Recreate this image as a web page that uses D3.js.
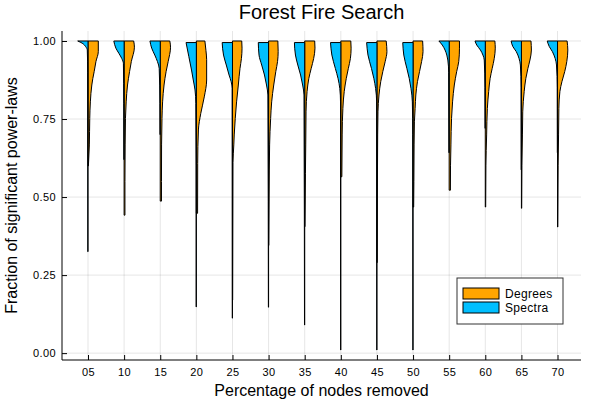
<!DOCTYPE html>
<head>
  <meta charset="utf-8" />
  <script src="https://d3js.org/d3.v7.min.js"></script>
  <style>
    body { margin: 0; background: #fff; }
    text { font-family: "Liberation Sans", Arial, sans-serif; fill: #000; }
  </style>
</head>
<body>
  <script>
    var width = 600,
      height = 400;

    // categories on the x axis
    var categories = ["05", "10", "15", "20", "25", "30", "35", "40", "45", "50", "55", "60", "65", "70"];
    var yTicks = [0, 0.25, 0.5, 0.75, 1.0];
    var seriesNames = ["Degrees", "Spectra"];
    var seriesColors = ["#FFA500", "#00BFFF"];

    // density outlines: [value, relative half-width]
    var degreesShape = [
      [[1.0, 1.0], [0.966, 1.0], [0.934, 0.77], [0.902, 0.6], [0.88, 0.47], [0.859, 0.37], [0.805, 0.23], [0.752, 0.17], [0.667, 0.13], [0.6, 0.04]],
      [[1.0, 0.93], [0.98, 1.0], [0.934, 0.7], [0.902, 0.53], [0.859, 0.33], [0.805, 0.2], [0.752, 0.13], [0.667, 0.1], [0.55, 0.08], [0.442, 0.08]],
      [[1.0, 0.93], [0.98, 1.0], [0.934, 0.77], [0.902, 0.57], [0.859, 0.37], [0.805, 0.23], [0.752, 0.17], [0.667, 0.13], [0.55, 0.12], [0.487, 0.12]],
      [[1.0, 0.83], [0.97, 0.93], [0.94, 1.0], [0.875, 1.0], [0.821, 0.77], [0.768, 0.43], [0.715, 0.2], [0.608, 0.13], [0.448, 0.12]],
      [[1.0, 0.9], [0.977, 0.93], [0.944, 0.87], [0.912, 0.73], [0.859, 0.57], [0.805, 0.4], [0.752, 0.27], [0.699, 0.17], [0.667, 0.13], [0.61, 0.05], [0.17, 0.02]],
      [[1.0, 0.9], [0.966, 0.93], [0.934, 0.87], [0.902, 0.7], [0.859, 0.5], [0.805, 0.3], [0.752, 0.2], [0.667, 0.1], [0.5, 0.05], [0.345, 0.02]],
      [[1.0, 0.97], [0.977, 1.0], [0.944, 0.87], [0.912, 0.63], [0.88, 0.4], [0.838, 0.23], [0.773, 0.13], [0.667, 0.1], [0.576, 0.07], [0.405, 0.02]],
      [[1.0, 0.97], [0.977, 1.0], [0.944, 0.93], [0.912, 0.73], [0.88, 0.53], [0.838, 0.33], [0.784, 0.2], [0.699, 0.13], [0.565, 0.1]],
      [[1.0, 0.9], [0.966, 0.97], [0.934, 0.8], [0.902, 0.57], [0.87, 0.37], [0.827, 0.2], [0.773, 0.1], [0.699, 0.07], [0.5, 0.04], [0.29, 0.02]],
      [[1.0, 0.93], [0.966, 0.97], [0.934, 0.83], [0.902, 0.63], [0.87, 0.43], [0.827, 0.27], [0.784, 0.2], [0.741, 0.13], [0.667, 0.1], [0.55, 0.08], [0.468, 0.06]],
      [[1.0, 1.0], [0.977, 1.0], [0.934, 0.93], [0.902, 0.73], [0.859, 0.5], [0.805, 0.33], [0.752, 0.23], [0.667, 0.17], [0.6, 0.13], [0.522, 0.12]],
      [[1.0, 0.93], [0.977, 0.97], [0.944, 0.87], [0.912, 0.67], [0.88, 0.47], [0.838, 0.33], [0.784, 0.2], [0.699, 0.13], [0.6, 0.06], [0.468, 0.04]],
      [[1.0, 0.93], [0.971, 0.97], [0.939, 0.83], [0.912, 0.63], [0.88, 0.43], [0.838, 0.27], [0.773, 0.13], [0.699, 0.1], [0.6, 0.05], [0.464, 0.03]],
      [[1.0, 0.93], [0.971, 1.0], [0.934, 0.9], [0.902, 0.7], [0.87, 0.43], [0.838, 0.23], [0.784, 0.13], [0.699, 0.1], [0.6, 0.06], [0.404, 0.03]]
    ];
    var spectraShape = [
      [[1.0, 1.0], [0.993, 0.57], [0.982, 0.23], [0.971, 0.07], [0.9, 0.03], [0.325, 0.02]],
      [[1.0, 1.0], [0.977, 0.8], [0.96, 0.5], [0.944, 0.23], [0.928, 0.07], [0.8, 0.03], [0.62, 0.02]],
      [[1.0, 1.0], [0.977, 0.83], [0.955, 0.53], [0.934, 0.27], [0.912, 0.1], [0.8, 0.03], [0.7, 0.02]],
      [[0.995, 1.0], [0.95, 0.73], [0.907, 0.47], [0.875, 0.3], [0.843, 0.13], [0.8, 0.05], [0.6, 0.02], [0.148, 0.02]],
      [[0.995, 1.0], [0.955, 0.87], [0.923, 0.6], [0.891, 0.33], [0.87, 0.13], [0.848, 0.03], [0.112, 0.02]],
      [[0.995, 1.0], [0.955, 0.93], [0.923, 0.67], [0.891, 0.4], [0.859, 0.2], [0.827, 0.07], [0.147, 0.02]],
      [[0.995, 1.0], [0.955, 0.9], [0.923, 0.67], [0.891, 0.4], [0.859, 0.2], [0.827, 0.07], [0.09, 0.02]],
      [[0.995, 1.0], [0.955, 0.87], [0.912, 0.53], [0.88, 0.27], [0.848, 0.1], [0.805, 0.03], [0.01, 0.02]],
      [[0.995, 1.0], [0.955, 0.87], [0.912, 0.53], [0.88, 0.3], [0.848, 0.13], [0.805, 0.03], [0.01, 0.02]],
      [[0.995, 1.0], [0.955, 0.9], [0.912, 0.6], [0.88, 0.37], [0.848, 0.2], [0.805, 0.07], [0.7, 0.03], [0.01, 0.02]],
      [[1.0, 1.0], [0.987, 0.67], [0.971, 0.4], [0.955, 0.23], [0.939, 0.13], [0.9, 0.05], [0.642, 0.02]],
      [[1.0, 1.0], [0.987, 0.83], [0.971, 0.47], [0.955, 0.23], [0.939, 0.1], [0.85, 0.03], [0.72, 0.02]],
      [[1.0, 1.0], [0.982, 0.83], [0.966, 0.5], [0.944, 0.23], [0.923, 0.1], [0.85, 0.03], [0.587, 0.02]],
      [[1.0, 1.0], [0.982, 0.8], [0.966, 0.5], [0.944, 0.23], [0.923, 0.1], [0.85, 0.03], [0.642, 0.02]]
    ];

    var plotLeft = 62, plotRight = 581, plotTop = 31, plotBottom = 360;

    var svg = d3.select("body").append("svg")
      .attr("width", width)
      .attr("height", height);

    var x = d3.scaleLinear()
      .domain([-0.72, categories.length - 1 + 0.65])
      .range([plotLeft, plotRight]);
    var y = d3.scaleLinear()
      .domain([-0.022, 1.032])
      .range([plotBottom, plotTop]);

    var halfWidth = (x(1) - x(0)) * 0.285;

    // grid
    svg.append("g").selectAll("line")
      .data(categories)
      .join("line")
      .attr("x1", (d, i) => x(i)).attr("x2", (d, i) => x(i))
      .attr("y1", plotTop).attr("y2", plotBottom)
      .attr("stroke", "#000").attr("stroke-opacity", 0.1);
    svg.append("g").selectAll("line")
      .data(yTicks)
      .join("line")
      .attr("x1", plotLeft).attr("x2", plotRight)
      .attr("y1", d => y(d)).attr("y2", d => y(d))
      .attr("stroke", "#000").attr("stroke-opacity", 0.1);

    // violins
    var edge = d3.line().curve(d3.curveMonotoneY);
    function halfPath(i, shape, side) {
      var cx = x(i);
      var pts = shape.map(p => [cx + side * p[1] * halfWidth, y(p[0])]);
      var y0 = y(shape[0][0]), y1 = y(shape[shape.length - 1][0]);
      return "M" + cx + "," + y0 + "L" + edge(pts).slice(1) + "L" + cx + "," + y1 + "Z";
    }
    var vg = svg.append("g");
    vg.append("g").selectAll("path")
      .data(degreesShape)
      .join("path")
      .attr("d", (d, i) => halfPath(i, d, 1))
      .attr("fill", seriesColors[0])
      .attr("stroke", "#000").attr("stroke-width", 1)
      .attr("stroke-linejoin", "round");
    vg.append("g").selectAll("path")
      .data(spectraShape)
      .join("path")
      .attr("d", (d, i) => halfPath(i, d, -1))
      .attr("fill", seriesColors[1])
      .attr("stroke", "#000").attr("stroke-width", 1)
      .attr("stroke-linejoin", "round");

    // axes
    var yAxis = d3.axisLeft(y).tickValues(yTicks)
      .tickFormat(d3.format(".2f")).tickSize(-5).tickPadding(6);
    var gy = svg.append("g").attr("transform", "translate(" + plotLeft + ",0)").call(yAxis);
    gy.select(".domain").attr("d", "M0," + plotTop + "V" + plotBottom);

    var xAxis = d3.axisBottom(x).tickValues(d3.range(categories.length))
      .tickFormat(i => categories[i]).tickSize(-5).tickPadding(8);
    var gx = svg.append("g").attr("transform", "translate(0," + plotBottom + ")").call(xAxis);
    gx.select(".domain").attr("d", "M" + plotLeft + ",0H" + plotRight);

    svg.selectAll(".tick text").attr("font-size", 11)
      .attr("font-family", "Liberation Sans, Arial, sans-serif").attr("letter-spacing", 0.4);

    // titles
    svg.append("text").attr("x", (plotLeft + plotRight) / 2).attr("y", 19)
      .attr("text-anchor", "middle").attr("font-size", 20).text("Forest Fire Search");
    svg.append("text").attr("x", (plotLeft + plotRight) / 2).attr("y", 396)
      .attr("text-anchor", "middle").attr("font-size", 16).text("Percentage of nodes removed");
    svg.append("text")
      .attr("transform", "translate(17," + (plotTop + plotBottom) / 2 + ") rotate(-90)")
      .attr("text-anchor", "middle").attr("font-size", 16).text("Fraction of significant power-laws");

    // legend
    var lg = svg.append("g").attr("transform", "translate(457,278)");
    lg.append("rect").attr("width", 106).attr("height", 46)
      .attr("fill", "#fff").attr("stroke", "#333");
    var items = lg.selectAll("g").data(seriesNames).join("g")
      .attr("transform", (d, i) => "translate(6," + (10 + i * 14) + ")");
    items.append("rect").attr("width", 36).attr("height", 11)
      .attr("fill", (d, i) => seriesColors[i]).attr("stroke", "#000");
    items.append("text").attr("x", 42).attr("y", 10)
      .attr("font-size", 12).attr("letter-spacing", 0.3).text(d => d);
  </script>
</body>
